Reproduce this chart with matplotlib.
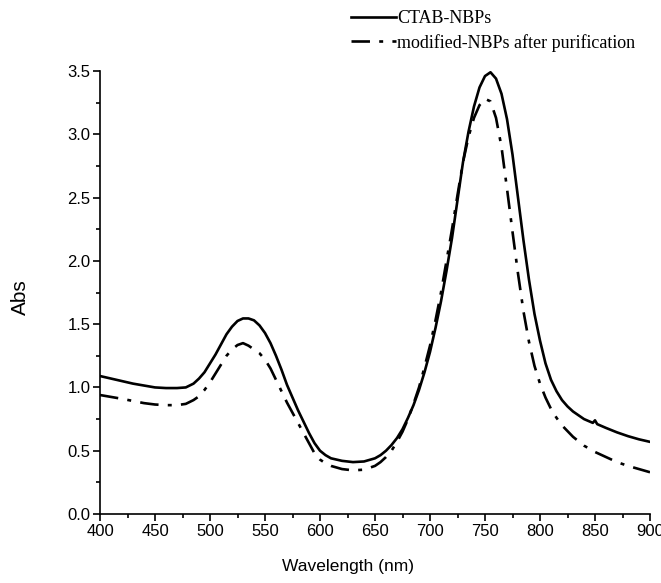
import numpy as np
import matplotlib
matplotlib.use('Agg')
import matplotlib.pyplot as plt
from matplotlib.ticker import MultipleLocator

plt.rcParams['font.family'] = ['Liberation Sans', 'DejaVu Sans']

# CTAB-NBPs spectrum
wl_ctab = [400, 410, 420, 430, 440, 450, 460, 470, 478, 485, 490, 495, 500,
           505, 510, 515, 520, 525, 530, 535, 540, 545, 550, 555, 560, 565,
           570, 575, 580, 585, 590, 595, 600, 605, 610, 620, 630, 640, 650,
           655, 660, 665, 670, 675, 680, 685, 690, 695, 700, 705, 710, 715,
           720, 725, 730, 735, 740, 745, 750, 755, 760, 765, 770, 775, 780,
           785, 790, 795, 800, 805, 810, 815, 820, 825, 830, 840, 848, 850,
           852, 860, 870, 880, 890, 900]
abs_ctab = [1.09, 1.07, 1.05, 1.03, 1.015, 1.0, 0.995, 0.995, 1.0, 1.03, 1.07,
            1.12, 1.19, 1.26, 1.34, 1.42, 1.48, 1.525, 1.545, 1.545, 1.53,
            1.49, 1.43, 1.35, 1.25, 1.14, 1.02, 0.92, 0.82, 0.73, 0.64, 0.56,
            0.50, 0.465, 0.44, 0.42, 0.41, 0.415, 0.44, 0.465, 0.50, 0.545,
            0.60, 0.67, 0.76, 0.86, 0.98, 1.12, 1.28, 1.47, 1.68, 1.92, 2.18,
            2.48, 2.78, 3.02, 3.22, 3.37, 3.46, 3.49, 3.44, 3.32, 3.12, 2.84,
            2.50, 2.16, 1.85, 1.58, 1.37, 1.19, 1.06, 0.97, 0.90, 0.85, 0.81,
            0.75, 0.72, 0.74, 0.71, 0.68, 0.645, 0.615, 0.59, 0.57]

# modified-NBPs after purification
wl_mod = [400, 410, 420, 430, 440, 450, 460, 470, 478, 485, 490, 495, 500,
          505, 510, 515, 520, 525, 530, 535, 540, 545, 550, 555, 560, 565,
          570, 575, 580, 585, 590, 595, 600, 605, 610, 620, 630, 640, 650,
          655, 660, 665, 670, 675, 680, 685, 690, 695, 700, 705, 710, 715,
          720, 725, 730, 735, 740, 745, 750, 755, 760, 765, 770, 775, 780,
          785, 790, 795, 800, 805, 810, 815, 820, 830, 840, 850, 860, 870,
          880, 890, 900]
abs_mod = [0.94, 0.925, 0.91, 0.893, 0.876, 0.865, 0.86, 0.86, 0.87, 0.9,
           0.93, 0.98, 1.04, 1.11, 1.18, 1.25, 1.30, 1.335, 1.35, 1.33, 1.30,
           1.27, 1.22, 1.15, 1.06, 0.97, 0.88, 0.80, 0.72, 0.64, 0.56, 0.48,
           0.43, 0.40, 0.38, 0.355, 0.345, 0.35, 0.38, 0.41, 0.45, 0.50, 0.57,
           0.65, 0.75, 0.87, 1.0, 1.16, 1.33, 1.53, 1.75, 2.0, 2.25, 2.52,
           2.78, 2.98, 3.13, 3.23, 3.28, 3.26, 3.13, 2.90, 2.57, 2.23, 1.90,
           1.60, 1.36, 1.17, 1.03, 0.92, 0.83, 0.76, 0.70, 0.61, 0.54, 0.49,
           0.45, 0.41, 0.38, 0.355, 0.33]

x_ticks = [400, 450, 500, 550, 600, 650, 700, 750, 800, 850, 900]
y_ticks = [0.0, 0.5, 1.0, 1.5, 2.0, 2.5, 3.0, 3.5]

fig = plt.figure(figsize=(6.61, 5.83), dpi=100)
ax = fig.add_axes([100/661, 69/583, 550/661, 443/583])

l1, = ax.plot(wl_ctab, abs_ctab, color='black', lw=1.9, label='CTAB-NBPs')
l2, = ax.plot(wl_mod, abs_mod, color='black', lw=1.9,
              dashes=(7, 3.5, 1.5, 3.5),
              label='modified-NBPs after purification')

ax.set_xlim(400, 900)
ax.set_ylim(0, 3.5)
ax.set_xticks(x_ticks)
ax.set_yticks(y_ticks)
ax.xaxis.set_minor_locator(MultipleLocator(25))
ax.yaxis.set_minor_locator(MultipleLocator(0.25))
ax.tick_params(which='major', direction='out', length=5, width=1.2,
               labelsize=12, pad=2)
ax.tick_params(which='minor', direction='out', length=3, width=1.2)
ax.spines['top'].set_visible(False)
ax.spines['right'].set_visible(False)
ax.spines['left'].set_linewidth(1.2)
ax.spines['bottom'].set_linewidth(1.2)

ax.set_xlabel('Wavelength (nm)', fontsize=12.5)
ax.set_ylabel('Abs', fontsize=15)
ax.xaxis.set_label_coords(0.451, -0.102)
ax.yaxis.set_label_coords(-0.128, 0.49)

fig.legend(handles=[l1, l2], loc='upper left',
           bbox_to_anchor=(351/661, 1 - 10/583), frameon=False,
           handlelength=2.5, handletextpad=0.05, labelspacing=0.38,
           borderaxespad=0, borderpad=0,
           prop={'family': 'Liberation Serif', 'size': 13})

fig.savefig('out.png', dpi=100)
